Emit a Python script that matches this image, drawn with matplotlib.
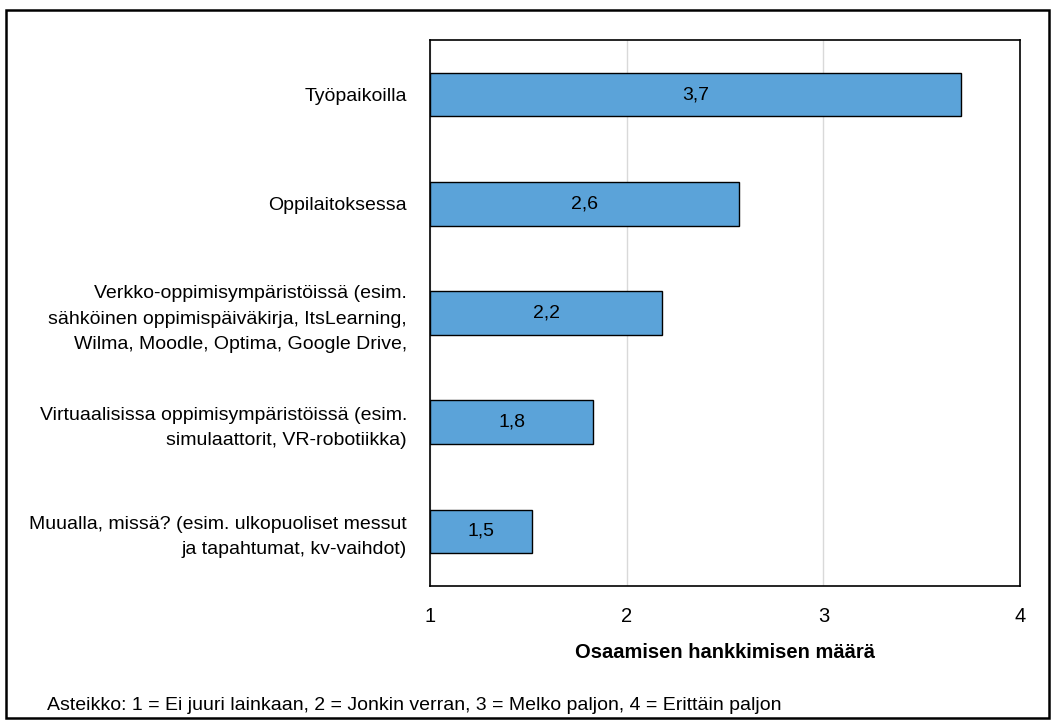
import matplotlib
matplotlib.use("Agg")
import matplotlib.pyplot as plt
import matplotlib.patches as mpatches

# ── Data ─────────────────────────────────────────────────────────────────────
categories = [
    "Työpaikoilla",
    "Oppilaitoksessa",
    "Verkko-oppimisympäristöissä (esim.\nsähköinen oppimispäiväkirja, ItsLearning,\nWilma, Moodle, Optima, Google Drive,",
    "Virtuaalisissa oppimisympäristöissä (esim.\nsimulaattorit, VR-robotiikka)",
    "Muualla, missä? (esim. ulkopuoliset messut\nja tapahtumat, kv-vaihdot)",
]
values = [3.70, 2.57, 2.18, 1.83, 1.52]
value_labels = ["3,7", "2,6", "2,2", "1,8", "1,5"]
x_ticks = [1, 2, 3, 4]

BAR_COLOR = "#5BA3D9"
plt.rcParams.update({"font.family": ["Liberation Sans", "DejaVu Sans"]})

fig = plt.figure(figsize=(10.57, 7.25), dpi=100)
ax = fig.add_axes([430 / 1057, 1 - 586 / 725, (1020 - 430) / 1057, (586 - 40) / 725])

ypos = list(range(len(categories)))
base = x_ticks[0]
bars = ax.barh(ypos, [v - base for v in values], left=base, height=0.4,
               color=BAR_COLOR, edgecolor="black", linewidth=1, zorder=3)
for bar, lab in zip(bars, value_labels):
    ax.text(bar.get_x() + bar.get_width() / 2, bar.get_y() + bar.get_height() / 2,
            lab, ha="center", va="center", fontsize=14, zorder=4)

ax.set_xlim(1, 4)
ax.set_ylim(len(categories) - 0.5, -0.5)
ax.set_xticks(x_ticks)
ax.set_xticklabels([str(t) for t in x_ticks], fontsize=14.5)
ax.set_yticks(ypos)
ax.set_yticklabels(categories, fontsize=14, ha="right", linespacing=1.62)
ax.tick_params(axis="both", length=0)
ax.tick_params(axis="x", pad=15)
ax.tick_params(axis="y", pad=16.5)
ax.xaxis.grid(True, color="#D9D9D9", linewidth=1, zorder=0)
for s in ax.spines.values():
    s.set_linewidth(1.2)
    s.set_color("black")
ax.set_xlabel("Osaamisen hankkimisen määrä", fontsize=14.5, fontweight="bold", labelpad=12)

fig.text(47 / 1057, 1 - 706 / 725, "Asteikko: 1 = Ei juuri lainkaan, 2 = Jonkin verran, 3 = Melko paljon, 4 = Erittäin paljon",
         fontsize=14, ha="left", va="center")

# outer frame
fig.add_artist(mpatches.Rectangle((6 / 1057, 1 - 718 / 725), (1049 - 6) / 1057, (718 - 10) / 725,
                                  transform=fig.transFigure, fill=False,
                                  edgecolor="black", linewidth=1.8))

fig.savefig("out.png", dpi=100)
